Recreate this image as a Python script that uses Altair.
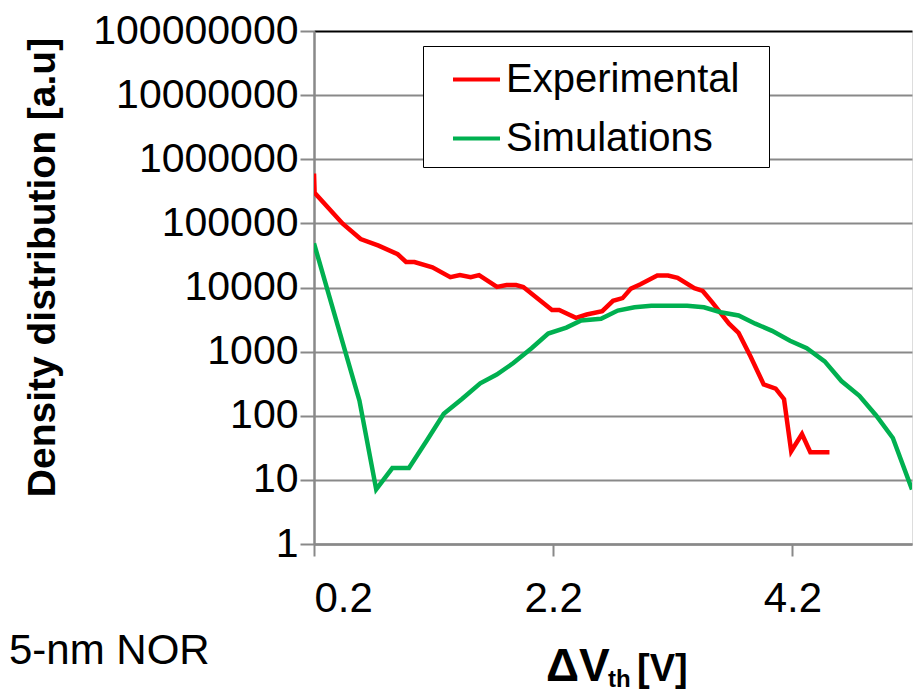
import altair as alt
import pandas as pd

# ---------------- data ----------------
exp_x = [0.2, 0.205, 0.44, 0.59, 0.74, 0.90, 0.97, 1.04, 1.19, 1.34, 1.42, 1.51, 1.58,
         1.73, 1.81, 1.89, 1.95, 2.19, 2.25, 2.39, 2.48, 2.61, 2.70, 2.78, 2.85, 2.93,
         3.07, 3.16, 3.24, 3.38, 3.45, 3.53, 3.67, 3.75, 3.85, 3.96, 4.06, 4.13, 4.19,
         4.28, 4.35, 4.51]
exp_y = [600000, 300000, 99000, 57000, 45000, 33000, 25000, 25000, 20600, 14500, 15600,
         14500, 15600, 10200, 10900, 10900, 10200, 4470, 4470, 3370, 3790, 4270, 6210,
         6830, 9620, 11200, 15400, 15400, 14200, 9730, 8840, 5870, 2730, 1960, 840, 308,
         265, 182, 28, 52, 27, 27]

sim_x = [0.2, 0.58, 0.72, 0.855, 0.994, 1.146, 1.285, 1.437, 1.59, 1.728, 1.867, 2.019,
         2.158, 2.31, 2.434, 2.60, 2.74, 2.88, 3.02, 3.32, 3.46, 3.60, 3.75, 3.89, 4.03,
         4.18, 4.32, 4.47, 4.61, 4.76, 4.90, 5.04, 5.2]
sim_y = [48800, 172, 7.1, 15.3, 15.3, 41.8, 107, 182, 320, 439, 664, 1128, 1915, 2368,
         3065, 3252, 4363, 4918, 5203, 5203, 4918, 4120, 3656, 2727, 2107, 1480, 1128,
         705, 348, 205, 101, 45, 7.1]

series_names = ["Experimental", "Simulations"]
series_colors = ["#FF0000", "#00B050"]

x_ticks = [0.2, 2.2, 4.2]
y_ticks = [1, 10, 100, 1000, 10000, 100000, 1000000, 10000000, 100000000]

y_title = "Density distribution [a.u]"
x_title_main = "\u0394V"
x_title_sub = "th"
x_title_unit = "[V]"
note_text = "5-nm NOR"

FONT = "Liberation Sans"
GRID = "#898989"

TOP = 23      # plot top inside the svg (page y = TOP + 8)
H = 513       # plot height
W = 598       # plot width

df = pd.concat([
    pd.DataFrame({"x": exp_x, "y": exp_y, "series": series_names[0], "order": range(len(exp_x))}),
    pd.DataFrame({"x": sim_x, "y": sim_y, "series": series_names[1], "order": range(len(sim_x))}),
])

x_scale = alt.Scale(domain=[0.2, 5.2], nice=False, zero=False)
y_scale = alt.Scale(type="log", domain=[1, 1e8], nice=False)

lines = alt.Chart(df).mark_line(strokeWidth=4.5, clip=True).encode(
    x=alt.X("x:Q", scale=x_scale,
            axis=alt.Axis(values=x_ticks, format=".1f", grid=False, title=None,
                          tickSize=12, tickWidth=2, tickColor=GRID,
                          domainColor=GRID, domainWidth=2.5,
                          labelFontSize=42, labelFont=FONT, labelColor="black",
                          labelPadding=22, labelLimit=0)),
    y=alt.Y("y:Q", scale=y_scale,
            axis=alt.Axis(values=y_ticks, format="d", title=y_title,
                          grid=True,
                          gridColor={"condition": {"test": "datum.value >= 100000000", "value": "black"},
                                     "value": GRID},
                          gridWidth=2,
                          tickSize=14, tickWidth=2, tickColor=GRID,
                          domainColor=GRID, domainWidth=2.5,
                          labelFontSize=41, labelFont=FONT, labelColor="black",
                          labelPadding=2, labelLimit=0,
                          titleFontSize=39, titleFont=FONT, titleFontWeight="bold",
                          titleColor="black", titleX=-252, titleY=236,
                          titleBaseline="bottom", titleAngle=270, titleAlign="center")),
    color=alt.Color("series:N",
                    scale=alt.Scale(domain=series_names, range=series_colors),
                    legend=alt.Legend(orient="none", legendX=109, legendY=15,
                                      title="\u00a0", titleOrient="right", titlePadding=22,
                                      titleFontSize=1,
                                      symbolType="stroke", symbolSize=2209,
                                      symbolStrokeWidth=4, labelFontSize=40,
                                      labelFont=FONT, labelColor="black", labelLimit=0,
                                      labelOffset=4, symbolOffset=20, padding=8,
                                      rowPadding=13, strokeColor="black",
                                      fillColor="white")),
    order="order:Q",
)

def label(txt, x, y, size, weight="normal", align="left"):
    return alt.Chart(pd.DataFrame({"t": [txt]})).mark_text(
        font=FONT, fontSize=size, fontWeight=weight, align=align,
        baseline="alphabetic", color="black",
    ).encode(x=alt.value(x), y=alt.value(y), text="t:N")

chart = alt.layer(
    lines,
    label(x_title_main, 232, 650, 46, "bold"),
    label(x_title_sub, 294, 656, 24, "bold"),
    label(x_title_unit, 323, 650, 38, "bold"),
    label(note_text, -305, 633, 42, "normal", "left"),
).properties(
    width=W, height=H,
    padding={"left": 306, "top": TOP, "right": 1, "bottom": 683 - TOP - H},
    autosize=alt.AutoSizeParams(type="none"),
).configure_view(stroke="black", strokeWidth=2).configure(background="white")

chart.save("out.html", embed_options={"renderer": "svg", "actions": False})
